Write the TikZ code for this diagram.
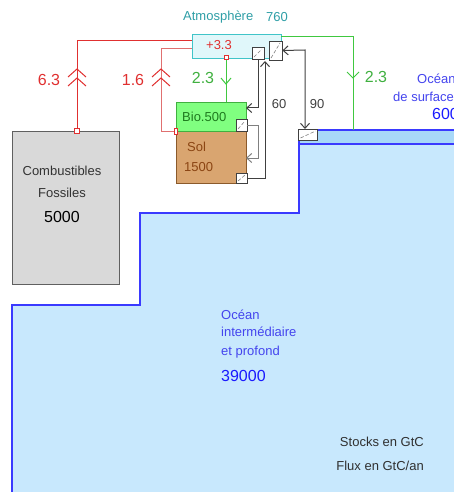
\documentclass[tikz,border=0pt]{standalone}
\usepackage{fontspec}
\setmainfont{Liberation Sans}
\usetikzlibrary{arrows.meta}
\definecolor{atmfill}{HTML}{E0F7FA}
\definecolor{atmdraw}{HTML}{40C4C8}
\definecolor{atmtext}{HTML}{2E9EA6}
\definecolor{biofill}{HTML}{80FF80}
\definecolor{biodraw}{HTML}{40B040}
\definecolor{biotext}{HTML}{1E7A1E}
\definecolor{solfill}{HTML}{D9A570}
\definecolor{soldraw}{HTML}{8B5A2B}
\definecolor{soltext}{HTML}{8B4513}
\definecolor{fosfill}{HTML}{D9D9D9}
\definecolor{fosdraw}{HTML}{606060}
\definecolor{ocfill}{HTML}{C8E8FD}
\definecolor{ocstrip}{HTML}{A8D8F8}
\definecolor{ocdraw}{HTML}{3A3AFF}
\definecolor{octext}{HTML}{4444EE}
\definecolor{ocnum}{HTML}{1A1AFF}
\definecolor{redA}{HTML}{E03030}
\definecolor{redB}{HTML}{E07070}
\definecolor{greenL}{HTML}{40C840}
\definecolor{greenT}{HTML}{40B040}
\definecolor{grayL}{HTML}{404040}
\definecolor{grayM}{HTML}{808080}
\definecolor{legend}{HTML}{303030}
\tikzset{
  box/.style={draw, line width=0.9pt, inner sep=0pt, anchor=north west},
  hatchbox/.style={draw=grayL, fill=white, line width=0.8pt, inner sep=0pt,
    path picture={\draw[grayM, line width=0.6pt, dash pattern=on 3.5pt off 2pt]
      ([shift={(2pt,2pt)}]path picture bounding box.south west) --
      ([shift={(-2pt,-2pt)}]path picture bounding box.north east);}},
  redsq/.style={draw=redA, fill=white, line width=0.7pt, inner sep=0pt},
  txt/.style={inner sep=0pt, font=\fontsize{13}{15}\selectfont},
  big/.style={inner sep=0pt, font=\fontsize{16}{18}\selectfont},
  redline/.style={redA, line width=1pt},
  greenline/.style={greenL, line width=1pt},
  grayarrow/.style={grayL, line width=1pt, -{Straight Barb[length=5pt,width=9pt]}},
}
\begin{document}
\begin{tikzpicture}[x=1pt,y=-1pt]
\useasboundingbox (0,0) rectangle (454,492);
\clip (0,0) rectangle (454,492);
% ocean
\fill[ocfill] (299,130) -- (470,130) -- (470,500) -- (12,500) -- (12,305) -- (140,305) -- (140,213) -- (299,213) -- cycle;
\fill[ocstrip] (299,130) rectangle (470,144);
\draw[ocdraw, line width=1.2pt] (470,130) -- (299,130) -- (299,213) -- (140,213) -- (140,305) -- (12,305) -- (12,500);
\draw[ocdraw, line width=1.2pt] (299,144) -- (470,144);
% boxes
\node[box, draw=fosdraw, fill=fosfill, minimum width=107pt, minimum height=153pt] (fos) at (12,131) {};
\node[box, draw=atmdraw, fill=atmfill, minimum width=89pt, minimum height=24pt] (atm) at (192,34) {};
% connector coordinates
\coordinate (r1a) at (192,41); \coordinate (r1b) at (77,131);
\coordinate (r2a) at (192,49); \coordinate (r2c) at (161,131); \coordinate (r2b) at (176,131);
\coordinate (g1a) at (226,58); \coordinate (g1b) at (226,102);
\coordinate (g2a) at (281,37); \coordinate (g2b) at (353,130);
% red flows
\draw[redline] (r1a) -| (r1b);
\draw[redB, line width=1pt] (r2a) -| (r2c) -- (r2b);
% green flows
\draw[greenline] (g1a) -- (g1b);
\draw[greenline] (g2a) -| (g2b);
% chevrons
\draw[redA, line width=1pt] (68,77) -- (77,69) -- (86,77);
\draw[redA, line width=1pt] (68,86) -- (77,78) -- (86,86);
\draw[redA, line width=1pt] (152,77) -- (161,69) -- (170,77);
\draw[redA, line width=1pt] (152,86) -- (161,78) -- (170,86);
\draw[greenL, line width=1pt] (221,78) -- (226,84) -- (231,78);
\draw[greenL, line width=1pt] (347,72) -- (353,78) -- (359,72);
% bio and sol boxes
\node[box, draw=soldraw, fill=solfill, minimum width=70pt, minimum height=52pt] (sol) at (176,131) {};
\node[box, draw=biodraw, fill=biofill, minimum width=70pt, minimum height=29pt] (bio) at (176,102) {};
% red small squares
\node[redsq, minimum width=5pt, minimum height=5pt] (rs1) at (77,131) {};
\node[redsq, minimum width=3pt, minimum height=6pt] (rs2) at (176,131) {};
\node[redsq, minimum width=4pt, minimum height=4pt] (rs3) at (226,57) {};
% hatched exchange squares
\node[hatchbox, minimum width=12pt, minimum height=12pt] (sqA) at (258,53) {};
\node[hatchbox, minimum width=13pt, minimum height=19pt] (sqB) at (275.5,50.5) {};
\node[hatchbox, minimum width=11pt, minimum height=12pt] (sqBio) at (241.5,125) {};
\node[hatchbox, minimum width=11pt, minimum height=10pt] (sqSol) at (241.5,178) {};
\node[hatchbox, minimum width=19pt, minimum height=11pt] (sqOc) at (308,134.5) {};
% gray flows
\coordinate (bioR) at (246,108);
\coordinate (solR) at (246,158);
\coordinate (c1) at (258,125); \coordinate (c2) at (258,158);
\coordinate (c3) at (265,178); \coordinate (c4) at (265,61);
\coordinate (c5) at (305,50); \coordinate (c6) at (305,129);
\draw[grayarrow] (sqA.south) |- (bioR);
\draw[grayarrow, grayM] (sqBio.east) -- (c1) -- (c2) -- (solR);
\draw[grayarrow] (sqSol.east) -- (c3) -- (c4);
\draw[grayarrow, {Straight Barb[length=5pt,width=9pt]}-{Straight Barb[length=5pt,width=9pt]}] (sqB.east) -- (c5) -- (c6);
% labels
\node[txt, text=atmtext, anchor=west] (tatm) at (183,17) {Atmosphère};
\node[txt, text=atmtext] (t760) at (277,17) {760};
\node[txt, text=redA] (t33) at (219,45) {+3.3};
\node[big, text=redA] (t63) at (49,80) {6.3};
\node[big, text=redA] (t16) at (133,80) {1.6};
\node[big, text=greenT] (t23a) at (203,78) {2.3};
\node[big, text=greenT] (t23b) at (376,77) {2.3};
\node[txt, text=grayL] (t60) at (279,104) {60};
\node[txt, text=grayL] (t90) at (317,104) {90};
\node[txt, text=biotext, anchor=west] (tbio) at (182,117) {Bio.500};
\node[txt, text=soltext, anchor=west] (tsol) at (187,147) {Sol};
\node[txt, text=soltext, anchor=west] (tsoln) at (184,167) {1500};
\node[txt, text=black!80] (tf1) at (62,171) {Combustibles};
\node[txt, text=black!80] (tf2) at (62,193) {Fossiles};
\node[big, text=black] (tf3) at (62,217) {5000};
\node[txt, text=octext, anchor=west] (ts1) at (417,79) {Océan};
\node[txt, text=octext, anchor=west] (ts2) at (393,97) {de surface};
\node[big, text=ocnum, anchor=west] (ts3) at (432,114) {600};
\node[txt, text=octext, anchor=west] (td1) at (221,315) {Océan};
\node[txt, text=octext, anchor=west] (td2) at (221,332) {intermédiaire};
\node[txt, text=octext, anchor=west] (td3) at (221,352) {et profond};
\node[big, text=ocnum, anchor=west] (td4) at (221,376) {39000};
\node[txt, text=legend, anchor=east] (l1) at (424,442) {Stocks en GtC};
\node[txt, text=legend, anchor=east] (l2) at (424,466) {Flux en GtC/an};
\end{tikzpicture}
\end{document}
